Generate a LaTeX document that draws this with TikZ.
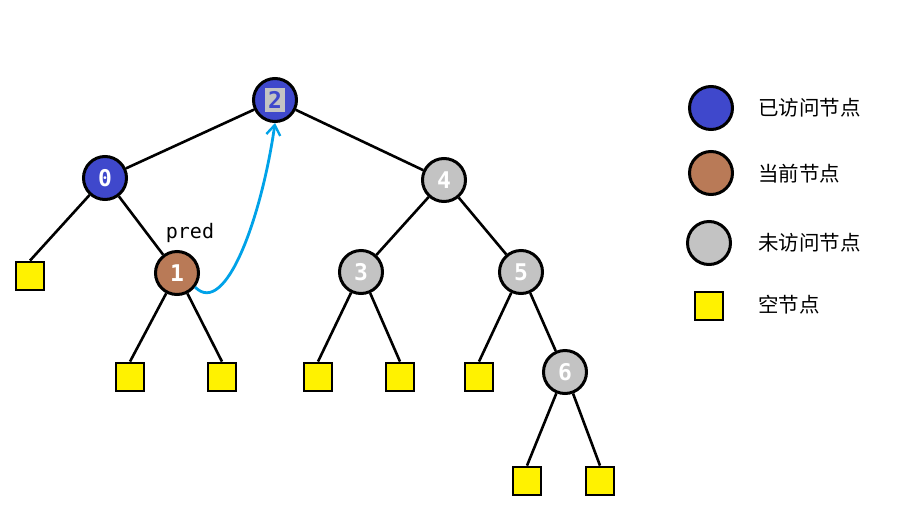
\documentclass[tikz,border=0pt]{standalone}
\usepackage{fontspec}
\usepackage{xcolor}
\usepackage{tikz}
\usetikzlibrary{arrows.meta,positioning}
\newfontfamily\cjk{Noto Sans CJK SC}
\newfontfamily\monofont{DejaVu Sans Mono}
\definecolor{visitblue}{HTML}{3F48CC}
\definecolor{curbrown}{HTML}{B97A57}
\definecolor{unvisitgray}{HTML}{C3C3C3}
\definecolor{nullyellow}{HTML}{FFF200}
\definecolor{predcyan}{HTML}{00A2E8}
\tikzset{
  tnode/.style={circle,draw=black,line width=3pt,minimum size=43pt,inner sep=0pt,text=white,font=\monofont\bfseries\fontsize{23}{23}\selectfont},
  visited/.style={tnode,fill=visitblue},
  current/.style={tnode,fill=curbrown},
  unvisited/.style={tnode,fill=unvisitgray},
  nullnode/.style={rectangle,draw=black,line width=2.8pt,fill=nullyellow,minimum size=28pt,inner sep=0pt},
  edge/.style={line width=2.6pt,draw=black},
  predflow/.style={-{Straight Barb[length=10pt,width=14pt,line width=2.4pt]},line width=2.8pt,draw=predcyan},
  legendtext/.style={anchor=west,font=\cjk\fontsize{20.5}{20.5}\selectfont,inner sep=0pt}
}
\begin{document}
\begin{tikzpicture}[x=1pt,y=-1pt]
  \useasboundingbox (0,0) rectangle (900,512);
  % tree
  \node[visited] (n2) at (275,100) {\setlength{\fboxsep}{3pt}\colorbox{unvisitgray}{\textcolor{visitblue}{2}}};
  \node[visited] (n0) at (105,178) {0};
  \node[unvisited] (n4) at (444,180) {4};
  \node[current] (n1) at (177,273) {1};
  \node[unvisited] (n3) at (361,272) {3};
  \node[unvisited] (n5) at (521,272) {5};
  \node[unvisited] (n6) at (565,372) {6};
  \node[font=\monofont\fontsize{20}{20}\selectfont] (pred) at (190,233) {pred};
  % null leaves
  \node[nullnode] (e0) at (30,276) {};
  \node[nullnode] (e1a) at (130,377) {};
  \node[nullnode] (e1b) at (222,377) {};
  \node[nullnode] (e3a) at (318,377) {};
  \node[nullnode] (e3b) at (400,377) {};
  \node[nullnode] (e5) at (479,377) {};
  \node[nullnode] (e6a) at (527,481) {};
  \node[nullnode] (e6b) at (600,481) {};
  \draw[edge] (n2)--(n0);
  \draw[edge] (n2)--(n4);
  \draw[edge] (n0)--(e0.north);
  \draw[edge] (n0)--(n1);
  \draw[edge] (n1)--(e1a.north);
  \draw[edge] (n1)--(e1b.north);
  \draw[edge] (n4)--(n3);
  \draw[edge] (n4)--(n5);
  \draw[edge] (n3)--(e3a.north);
  \draw[edge] (n3)--(e3b.north);
  \draw[edge] (n5)--(e5.north);
  \draw[edge] (n5)--(n6);
  \draw[edge] (n6)--(e6a.north);
  \draw[edge] (n6)--(e6b.north);
  % predecessor link
  \draw[predflow] (n1.-38) .. controls (226,318) and (262,215) .. (n2.south);
  % legend
  \node[visited] (lgvisited) at (711,108) {};
  \node[current] (lgcurrent) at (711,173) {};
  \node[unvisited] (lgunvisited) at (709,243) {};
  \node[nullnode] (lgnull) at (709,306) {};
  \node[legendtext] (txvisited) at (758,108) {已访问节点};
  \node[legendtext] (txcurrent) at (758,174) {当前节点};
  \node[legendtext] (txunvisited) at (758,243) {未访问节点};
  \node[legendtext] (txnull) at (758,305) {空节点};
\end{tikzpicture}
\end{document}
